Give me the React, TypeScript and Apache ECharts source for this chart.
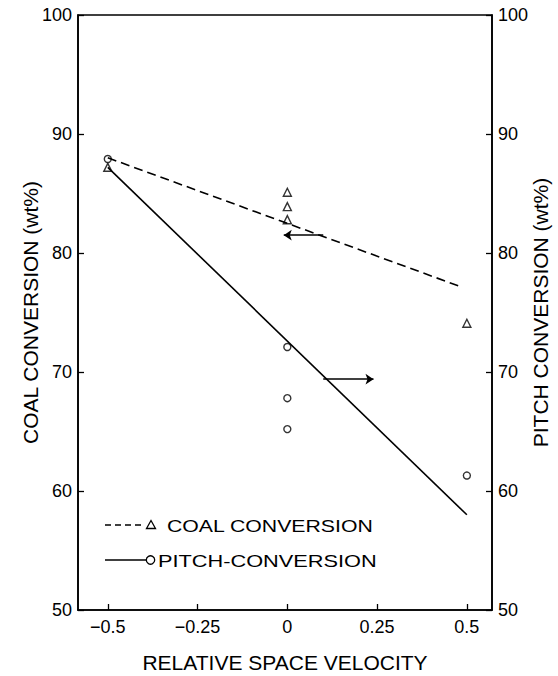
import React, { useEffect, useRef } from "react";
import * as echarts from "echarts";

const xTicks = [-0.5, -0.25, 0, 0.25, 0.5];
const xTickLabels = ["\u22120.5", "\u22120.25", "0", "0.25", "0.5"];
const coalPoints = [
  [-0.5, 87.2],
  [0, 85.1],
  [0, 83.9],
  [0, 82.8],
  [0.5, 74.1],
];
const pitchPoints = [
  [-0.5, 87.9],
  [0, 72.1],
  [0, 67.8],
  [0, 65.2],
  [0.5, 61.3],
];
const coalFit = [
  [-0.5, 88.0],
  [0.48, 77.2],
];
const pitchFit = [
  [-0.5, 87.2],
  [0.5, 58.0],
];
const coalArrow = [
  [-0.01, 81.5],
  [0.1, 81.5],
];
const pitchArrow = [
  [0.1, 69.4],
  [0.24, 69.4],
];
const legendNames = ["COAL CONVERSION", "PITCH-CONVERSION"];

const FONT = "Liberation Sans";

export default function App() {
  const ref = useRef<HTMLDivElement>(null);
  useEffect(() => {
    document.body.style.margin = "0";
    const chart = echarts.init(ref.current!, null, { renderer: "svg" });
    const yAxisCommon = {
      type: "value",
      min: 50,
      max: 100,
      interval: 10,
      splitLine: { show: false },
      axisLine: { show: true, onZero: false, lineStyle: { color: "#000", width: 1.6 } },
      axisTick: { show: true, inside: true, length: 6, lineStyle: { color: "#000", width: 1.3 } },
      axisLabel: { color: "#000", fontSize: 18, fontFamily: FONT, margin: 6 },
      nameLocation: "middle",
      nameMoveOverlap: false,
      nameTextStyle: { color: "#000", fontSize: 21, fontFamily: FONT },
    };
    chart.setOption({
      animation: false,
      backgroundColor: "#fff",
      grid: {
        left: 78,
        right: 66,
        top: 15,
        bottom: 66,
        show: true,
        borderColor: "#000",
        borderWidth: 1.6,
        backgroundColor: "transparent",
        containLabel: false,
        outerBoundsMode: "none",
      },
      xAxis: {
        type: "value",
        min: -0.583,
        max: 0.57,
        splitLine: { show: false },
        axisLine: { show: true, onZero: false, lineStyle: { color: "#000", width: 1.6 } },
        axisTick: {
          show: true,
          inside: true,
          length: 6,
          customValues: xTicks,
          lineStyle: { color: "#000", width: 1.3 },
        },
        axisLabel: {
          color: "#000",
          fontSize: 18,
          fontFamily: FONT,
          margin: 8,
          customValues: xTicks,
          formatter: (v: number) => {
            const i = xTicks.findIndex((t) => Math.abs(t - v) < 1e-6);
            return i >= 0 ? xTickLabels[i] : "";
          },
        },
        name: "RELATIVE SPACE VELOCITY",
        nameLocation: "middle",
        nameMoveOverlap: false,
        nameGap: 42,
        nameTextStyle: { color: "#000", fontSize: 21, fontFamily: FONT },
      },
      yAxis: [
        {
          ...yAxisCommon,
          position: "left",
          name: "COAL CONVERSION (wt%)",
          nameGap: 37,
        },
        {
          ...yAxisCommon,
          position: "right",
          name: "PITCH CONVERSION (wt%)",
          nameGap: 38,
          nameRotate: 90,
        },
      ],
      series: [
        {
          type: "line",
          data: coalFit,
          symbol: "none",
          lineStyle: { color: "#000", width: 1.6, type: [9, 5] },
          silent: true,
          markLine: {
            silent: true,
            symbol: ["arrow", "none"],
            symbolSize: [8, 8],
            label: { show: false },
            lineStyle: { color: "#000", width: 1.6, type: "solid" },
            data: [[{ coord: coalArrow[0] }, { coord: coalArrow[1] }]],
          },
        },
        {
          type: "line",
          yAxisIndex: 1,
          data: pitchFit,
          symbol: "none",
          lineStyle: { color: "#000", width: 1.6, type: "solid" },
          silent: true,
          markLine: {
            silent: true,
            symbol: ["none", "arrow"],
            symbolSize: [8, 8],
            label: { show: false },
            lineStyle: { color: "#000", width: 1.6, type: "solid" },
            data: [[{ coord: pitchArrow[0] }, { coord: pitchArrow[1] }]],
          },
        },
        {
          type: "scatter",
          name: legendNames[0],
          data: coalPoints,
          symbol: "triangle",
          symbolSize: 8,
          itemStyle: { color: "#fff", borderColor: "#000", borderWidth: 1.4 },
        },
        {
          type: "scatter",
          name: legendNames[1],
          yAxisIndex: 1,
          data: pitchPoints,
          symbol: "circle",
          symbolSize: 7,
          itemStyle: { color: "#fff", borderColor: "#000", borderWidth: 1.4 },
        },
      ],
      graphic: [
        {
          type: "line",
          shape: { x1: 105, y1: 525, x2: 145, y2: 525 },
          style: { stroke: "#000", lineWidth: 1.6, lineDash: [6, 4] },
        },
        {
          type: "polygon",
          shape: { points: [[151, 520.5], [155.5, 528.5], [146.5, 528.5]] },
          style: { fill: "#fff", stroke: "#000", lineWidth: 1.3 },
        },
        {
          type: "text",
          x: 167,
          y: 526,
          scaleX: 1.25,
          style: {
            text: legendNames[0],
            fontSize: 17,
            fontFamily: FONT,
            fill: "#000",
            textAlign: "left",
            textVerticalAlign: "middle",
            verticalAlign: "middle",
          },
        },
        {
          type: "line",
          shape: { x1: 105, y1: 560, x2: 146, y2: 560 },
          style: { stroke: "#000", lineWidth: 1.6 },
        },
        {
          type: "circle",
          shape: { cx: 150.5, cy: 560, r: 4.2 },
          style: { fill: "#fff", stroke: "#000", lineWidth: 1.3 },
        },
        {
          type: "text",
          x: 158,
          y: 561,
          scaleX: 1.28,
          style: {
            text: legendNames[1],
            fontSize: 17,
            fontFamily: FONT,
            fill: "#000",
            textAlign: "left",
            textVerticalAlign: "middle",
            verticalAlign: "middle",
          },
        },
      ],
    });
    return () => chart.dispose();
  }, []);
  return <div ref={ref} style={{ width: 558, height: 676 }} />;
}
